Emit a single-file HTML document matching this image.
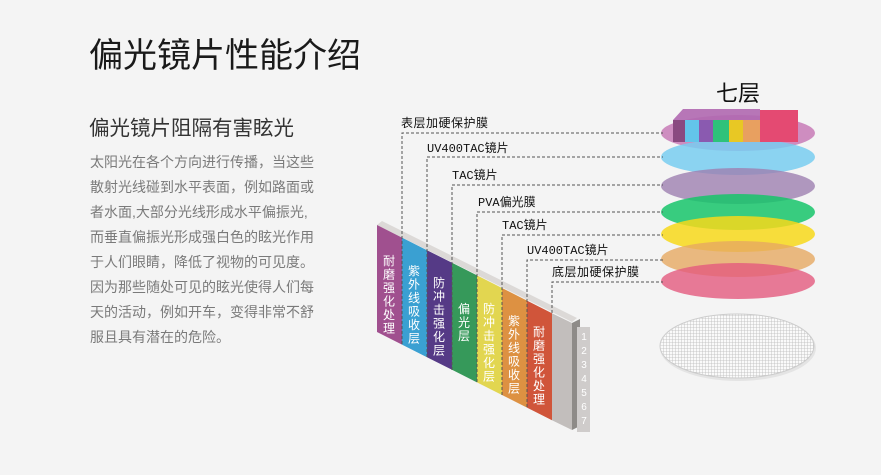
<!DOCTYPE html>
<html><head><meta charset="utf-8"><style>
html,body{margin:0;padding:0;background:#f4f4f4;}
svg{display:block;}
text{font-family:"Liberation Sans","Noto Sans CJK SC",sans-serif;}
text.mono{font-family:"Liberation Mono","Noto Sans CJK SC",monospace;}
</style></head><body>
<svg width="881" height="475" viewBox="0 0 881 475" xmlns="http://www.w3.org/2000/svg">
<rect width="881" height="475" fill="#f4f4f4"/>
<text x="89" y="67" font-size="34" fill="#1a1a1a">偏光镜片性能介绍</text>
<text x="89" y="135" font-size="20.5" fill="#333">偏光镜片阻隔有害眩光</text>
<g font-size="14" fill="#7a7a7a">
<text x="90" y="167">太阳光在各个方向进行传播，当这些</text>
<text x="90" y="192">散射光线碰到水平表面，例如路面或</text>
<text x="90" y="217">者水面,大部分光线形成水平偏振光,</text>
<text x="90" y="242">而垂直偏振光形成强白色的眩光作用</text>
<text x="90" y="267">于人们眼睛，降低了视物的可见度。</text>
<text x="90" y="292">因为那些随处可见的眩光使得人们每</text>
<text x="90" y="317">天的活动，例如开车，变得非常不舒</text>
<text x="90" y="342">服且具有潜在的危险。</text>
</g>
<polygon points="377,225 382,221 577,318 572,322" fill="#dcd9d7"/>
<g>
<polygon points="377,225 402,237.6 402,344.6 377,332" fill="#a0508f"/>
<polygon points="402,237.6 427,250.2 427,357.2 402,344.6" fill="#3aa0d2"/>
<polygon points="427,250.2 452,262.8 452,369.8 427,357.2" fill="#553a86"/>
<polygon points="452,262.8 477,275.4 477,382.4 452,369.8" fill="#36995a"/>
<polygon points="477,275.4 502,288 502,395 477,382.4" fill="#e2d650"/>
<polygon points="502,288 527,300.6 527,407.6 502,395" fill="#dd9142"/>
<polygon points="527,300.6 552,313.2 552,420.2 527,407.6" fill="#d0553a"/>
<polygon points="552,313.2 572,323 572,430 552,420.2" fill="#c2bebc"/>
<polygon points="572,323 580,319 580,426 572,430" fill="#8e8b88"/>
<polygon points="577,327 590,327 590,432 577,432" fill="#cfcccb"/>
</g>
<g font-size="10" fill="#fff" text-anchor="middle">
<text x="584" y="340">1</text><text x="584" y="354">2</text><text x="584" y="368">3</text><text x="584" y="382">4</text><text x="584" y="396">5</text><text x="584" y="410">6</text><text x="584" y="424">7</text>
</g>
<g font-size="12" fill="#fff" text-anchor="middle">
<text x="389" y="265"><tspan x="389">耐</tspan><tspan x="389" dy="13.5">磨</tspan><tspan x="389" dy="13.5">强</tspan><tspan x="389" dy="13.5">化</tspan><tspan x="389" dy="13.5">处</tspan><tspan x="389" dy="13.5">理</tspan></text>
<text x="414" y="275"><tspan x="414">紫</tspan><tspan x="414" dy="13.5">外</tspan><tspan x="414" dy="13.5">线</tspan><tspan x="414" dy="13.5">吸</tspan><tspan x="414" dy="13.5">收</tspan><tspan x="414" dy="13.5">层</tspan></text>
<text x="439" y="287"><tspan x="439">防</tspan><tspan x="439" dy="13.5">冲</tspan><tspan x="439" dy="13.5">击</tspan><tspan x="439" dy="13.5">强</tspan><tspan x="439" dy="13.5">化</tspan><tspan x="439" dy="13.5">层</tspan></text>
<text x="464" y="313"><tspan x="464">偏</tspan><tspan x="464" dy="13.5">光</tspan><tspan x="464" dy="13.5">层</tspan></text>
<text x="489" y="313"><tspan x="489">防</tspan><tspan x="489" dy="13.5">冲</tspan><tspan x="489" dy="13.5">击</tspan><tspan x="489" dy="13.5">强</tspan><tspan x="489" dy="13.5">化</tspan><tspan x="489" dy="13.5">层</tspan></text>
<text x="514" y="325"><tspan x="514">紫</tspan><tspan x="514" dy="13.5">外</tspan><tspan x="514" dy="13.5">线</tspan><tspan x="514" dy="13.5">吸</tspan><tspan x="514" dy="13.5">收</tspan><tspan x="514" dy="13.5">层</tspan></text>
<text x="539" y="336"><tspan x="539">耐</tspan><tspan x="539" dy="13.5">磨</tspan><tspan x="539" dy="13.5">强</tspan><tspan x="539" dy="13.5">化</tspan><tspan x="539" dy="13.5">处</tspan><tspan x="539" dy="13.5">理</tspan></text>
</g>
<g>
<ellipse cx="738" cy="133" rx="77" ry="18" fill="#c77ab6" opacity="0.85"/>
<ellipse cx="738" cy="157" rx="77" ry="18" fill="#78cdf0" opacity="0.85"/>
<ellipse cx="738" cy="186" rx="77" ry="18" fill="#9d7fb0" opacity="0.8"/>
<ellipse cx="738" cy="212" rx="77" ry="18" fill="#16c46a" opacity="0.85"/>
<ellipse cx="738" cy="234" rx="77" ry="18" fill="#f7d81a" opacity="0.85"/>
<ellipse cx="738" cy="259" rx="77" ry="18" fill="#e6a962" opacity="0.8"/>
<ellipse cx="738" cy="281" rx="77" ry="18" fill="#e35a7e" opacity="0.8"/>
</g>
<defs><pattern id="m" width="3" height="3" patternUnits="userSpaceOnUse"><rect width="3" height="3" fill="#fafafa"/><path d="M0 0H3M0 0V3" stroke="#bbb" stroke-width="0.8"/></pattern></defs>
<ellipse cx="738" cy="348" rx="78" ry="33" fill="#e4e4e4"/>
<ellipse cx="737" cy="346" rx="77" ry="32" fill="url(#m)" stroke="#ccc"/>
<g>
<rect x="673" y="120" width="125" height="22" fill="#c070a8"/>
<rect x="673" y="120" width="12" height="22" fill="#8a4a80"/>
<rect x="685" y="120" width="14" height="22" fill="#63c5ea"/>
<rect x="699" y="120" width="14" height="22" fill="#8a5ab0"/>
<rect x="713" y="120" width="16" height="22" fill="#2ec27a"/>
<rect x="729" y="120" width="14" height="22" fill="#e8c824"/>
<rect x="743" y="120" width="17" height="22" fill="#e8a060"/>
<rect x="760" y="110" width="38" height="32" fill="#e44a72"/>
<polygon points="673,120 683,109 760,109 760,120" fill="#b068b0" opacity="0.9"/>
</g>
<text x="738" y="101" font-size="22" fill="#111" text-anchor="middle">七层</text>
<g fill="none" stroke="#555" stroke-width="1" stroke-dasharray="3,2">
<path d="M402 344 V133 H663"/>
<path d="M427 357 V157 H663"/>
<path d="M452 370 V185 H663"/>
<path d="M477 382 V212 H663"/>
<path d="M502 395 V235 H663"/>
<path d="M527 407 V260 H663"/>
<path d="M552 313 V282 H663"/>
</g>
<g font-size="12" fill="#111">
<text class="mono" x="401" y="127" letter-spacing="0.5">表层加硬保护膜</text>
<text class="mono" x="427" y="152">UV400TAC镜片</text>
<text class="mono" x="452" y="179">TAC镜片</text>
<text class="mono" x="478" y="206">PVA偏光膜</text>
<text class="mono" x="502" y="229">TAC镜片</text>
<text class="mono" x="527" y="254">UV400TAC镜片</text>
<text class="mono" x="552" y="276" letter-spacing="0.5">底层加硬保护膜</text>
</g>
</svg>
</body></html>
